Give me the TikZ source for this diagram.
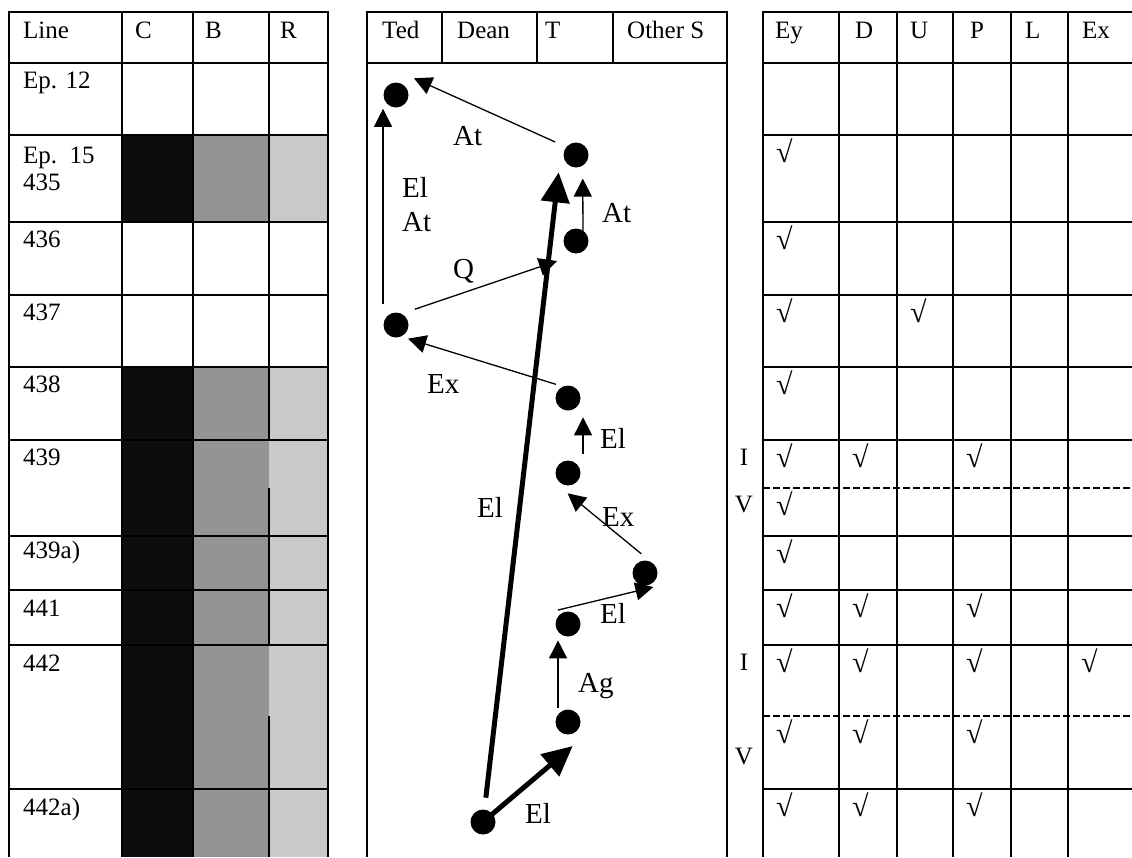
\documentclass[tikz,border=0pt]{standalone}
\usepackage{fontspec}
\setmainfont{Liberation Serif}
\usetikzlibrary{arrows.meta}

\begin{document}
\begin{tikzpicture}[x=1pt, y=-1pt,
    rule/.style={line width=1.6pt},
    cell/.style={inner sep=0pt, anchor=base west, font=\fontsize{25}{29}\selectfont},
    tick/.style={inner sep=0pt, anchor=north west, font=\fontsize{30}{34}\selectfont},
    lbl/.style={inner sep=0pt, anchor=base west, font=\fontsize{29}{32}\selectfont},
    dot/.style={circle, fill=black, minimum size=25pt, inner sep=0pt, outer sep=12pt},
    thinarrow/.style={line width=1.3pt, -{Triangle[length=18pt, width=18pt]}},
    thickarrow/.style={line width=5pt, -{Triangle[length=30pt, width=28pt]}}]
    \useasboundingbox (0,0) rectangle (1132,857);

    % Shaded columns C, B, R
    \foreach \ya/\yb in {135/222, 367/857} {
      \fill[black!95] (122,\ya) rectangle (193,\yb);
      \fill[black!42] (193,\ya) rectangle (269,\yb);
      \fill[black!21] (269,\ya) rectangle (328,\yb);
    }

    % Left table
    \draw[rule] (9,857) -- (9,12) -- (328,12) -- (328,857);
    \foreach \y in {63,135,222,295,367,440,536,590,645,789} \draw[rule] (9,\y) -- (328,\y);
    \foreach \x in {122,193} \draw[rule] (\x,12) -- (\x,857);
    \draw[rule] (269,12) -- (269,440) (269,488) -- (269,645) (269,716) -- (269,857);

    % Middle table
    \draw[rule] (367,857) -- (367,12) -- (727,12) -- (727,857);
    \draw[rule] (367,63) -- (727,63);
    \foreach \x in {442,537,613} \draw[rule] (\x,12) -- (\x,63);

    % Right table
    \draw[rule] (1132,12) -- (763,12) -- (763,857);
    \foreach \y in {63,135,222,295,367,440,536,590,645,789} \draw[rule] (763,\y) -- (1132,\y);
    \foreach \y in {488,716} \draw[line width=1.3pt, dash pattern=on 7pt off 3pt] (763,\y) -- (1132,\y);
    \foreach \x in {839,897,953,1011,1068} \draw[rule] (\x,12) -- (\x,857);

    % Header texts
    \foreach \t/\x [count=\i] in {Line/23, C/135, B/205, R/280, Ted/382, Dean/457, T/545, Other S/627,
                                   Ey/775, D/855, U/910, P/970, L/1025, Ex/1082}
      \node[cell] (head\i) at (\x,38) {\t};

    % Line numbers
    \foreach \t/\y [count=\i] in {Ep. 12/88, Ep.\ \ 15/163, 435/190, 436/247, 437/320, 438/392,
                                   439/465, 439a)/558, 441/616, 442/671, 442a)/815}
      \node[cell] (row\i) at (23,\y) {\t};

    % I / V marks
    \foreach \t/\y [count=\i] in {I/465, V/512, I/670, V/764}
      \node[cell, anchor=base] (side\i) at (744,\y) {\t};

    % Check marks
    \foreach \x/\y [count=\i] in {776/139, 776/226, 776/299, 910/299, 776/371,
                                  776/444, 852/444, 966/444, 776/492, 776/540,
                                  776/594, 852/594, 966/594,
                                  776/649, 852/649, 966/649, 1081/649,
                                  776/720, 852/720, 966/720,
                                  776/793, 852/793, 966/793}
      \node[tick] (ck\i) at (\x,\y) {√};

    % Dots
    \node[dot] (d1) at (396,95) {};
    \node[dot] (d2) at (576,155) {};
    \node[dot] (d3) at (576,241) {};
    \node[dot] (d4) at (396,325) {};
    \node[dot] (d5) at (568,398) {};
    \node[dot] (d6) at (568,473) {};
    \node[dot] (d7) at (645,573) {};
    \node[dot] (d8) at (568,624) {};
    \node[dot] (d9) at (568,722) {};
    \node[dot] (d10) at (483,822) {};
    \coordinate (qend) at (557,261);

    % Moves
    \draw[thinarrow] (d2.148) -- (d1.43);
    \draw[thinarrow, shorten >=-7pt] (d4.122) -- (d1.238);
    \draw[thinarrow] ([xshift=7pt]d3.center) -- (d2.-74);
    \draw[thickarrow] (d10) -- (d2.225);
    \draw[thinarrow] (d4.40) -- (qend);
    \draw[thinarrow, shorten <=-7pt, shorten >=-7pt] (d5.140) -- (d4.-40);
    \draw[thinarrow] (d6.52) -- (d5.-52);
    \draw[thinarrow, shorten <=-6pt, shorten >=-6pt] (d7.110) -- (d6.-80);
    \draw[thinarrow, shorten <=12pt, shorten >=14pt] (d8.153) -- (d7.-26);
    \draw[thinarrow, shorten <=-8pt, shorten >=-6pt] (d9.114) -- (d8.-114);
    \draw[thickarrow] (d10.center) -- (d9.-79);

    % Move labels
    \node[lbl] (m1) at (453,145) {At};
    \node[lbl] (m2) at (402,197) {El};
    \node[lbl] (m3) at (402,231) {At};
    \node[lbl] (m4) at (602,222) {At};
    \node[lbl] (m5) at (453,278) {Q};
    \node[lbl] (m6) at (427,393) {Ex};
    \node[lbl] (m7) at (600,448) {El};
    \node[lbl] (m8) at (477,517) {El};
    \node[lbl] (m9) at (602,526) {Ex};
    \node[lbl] (m10) at (600,623) {El};
    \node[lbl] (m11) at (578,692) {Ag};
    \node[lbl] (m12) at (525,823) {El};
\end{tikzpicture}
\end{document}
